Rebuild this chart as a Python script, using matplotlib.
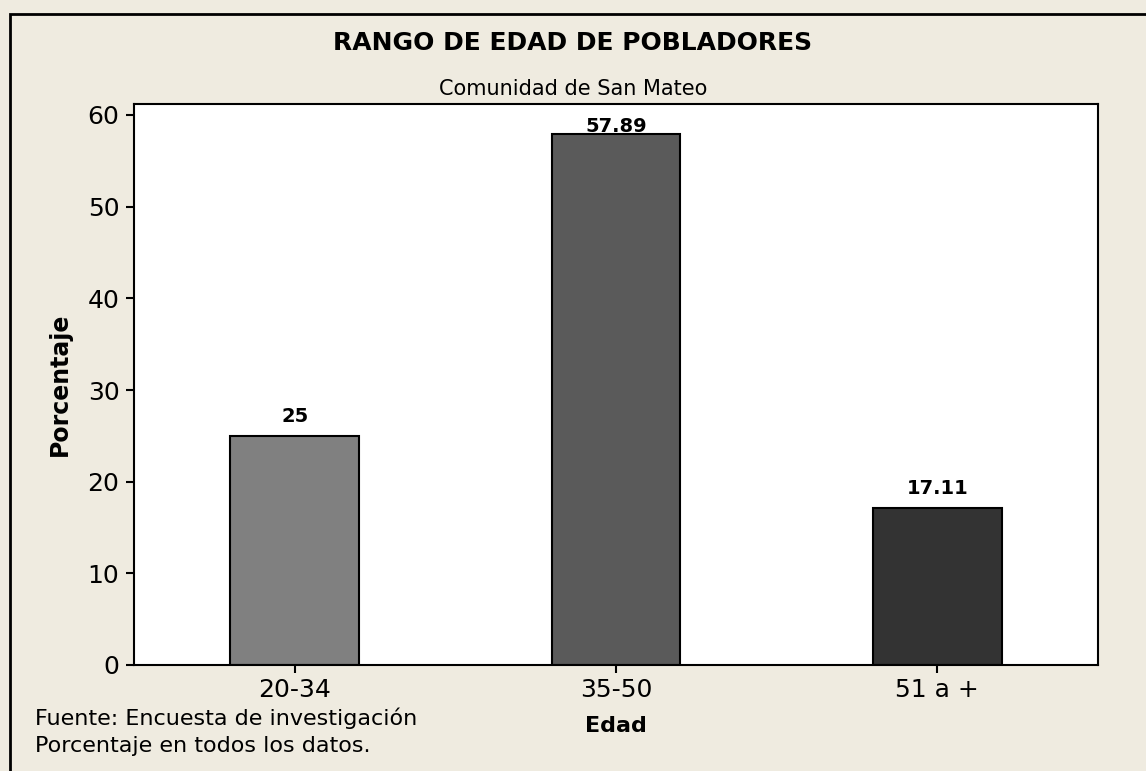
import matplotlib
matplotlib.use("Agg")
import matplotlib.pyplot as plt
from matplotlib.patches import Rectangle

categories = ["20-34", "35-50", "51 a +"]
values = [25, 57.89, 17.11]
value_labels = ["25", "57.89", "17.11"]
bar_colors = ["#808080", "#5a5a5a", "#333333"]

plt.rcParams['font.family'] = 'DejaVu Sans'
bg = "#efebe0"
W, H = 1146, 771

fig = plt.figure(figsize=(11.46, 7.71), dpi=100, facecolor=bg)
ax = fig.add_axes([134 / W, 1 - 665 / H, 964 / W, 561 / H])
ax.set_facecolor("white")

x = list(range(len(categories)))
ax.bar(x, values, width=0.4, color=bar_colors, edgecolor="black", linewidth=1.5, zorder=2)

ymax = 61.2
for xi, v, lab in zip(x, values, value_labels):
    # labels near the top of the frame sit closer to their bar, like in the original
    off = 10 if v < ymax - 8 else 2
    ax.annotate(lab, (xi, v), xytext=(0, off), textcoords="offset points",
                ha="center", va="baseline", fontsize=14, fontweight="bold")

ax.set_xlim(-0.5, 2.5)
ax.set_ylim(0, ymax)
ax.set_yticks([0, 10, 20, 30, 40, 50, 60])
ax.set_xticks(x)
ax.set_xticklabels(categories)
ax.tick_params(axis="both", labelsize=18, length=5.5, width=1.5, direction="out")
ax.tick_params(axis="y", pad=5)
ax.tick_params(axis="x", pad=4)
for s in ax.spines.values():
    s.set_linewidth(1.5)

ax.set_xlabel("Edad", fontsize=16, fontweight="bold", va="center")
ax.xaxis.set_label_coords(0.5, (665 - 726) / 561)
ax.set_ylabel("Porcentaje", fontsize=17, fontweight="bold", va="center")
ax.yaxis.set_label_coords((60 - 134) / 964, 0.5)

fig.text(0.5, 1 - 50 / H, "RANGO DE EDAD DE POBLADORES", ha="center", va="baseline",
         fontsize=18, fontweight="bold")
fig.text(0.5, 1 - 95 / H, "Comunidad de San Mateo", ha="center", va="baseline", fontsize=15)
fig.text(35 / W, 1 - 725 / H, "Fuente: Encuesta de investigación", ha="left", va="baseline", fontsize=16)
fig.text(35 / W, 1 - 752 / H, "Porcentaje en todos los datos.", ha="left", va="baseline", fontsize=16)

# outer frame (only top and left edges fall inside the image)
fig.patches.append(Rectangle((10 / W, -0.1), 1.2, 1 - 14 / H + 0.1, transform=fig.transFigure,
                             fill=False, edgecolor="black", linewidth=2, figure=fig))

fig.savefig("out.png", dpi=100, facecolor=bg)
